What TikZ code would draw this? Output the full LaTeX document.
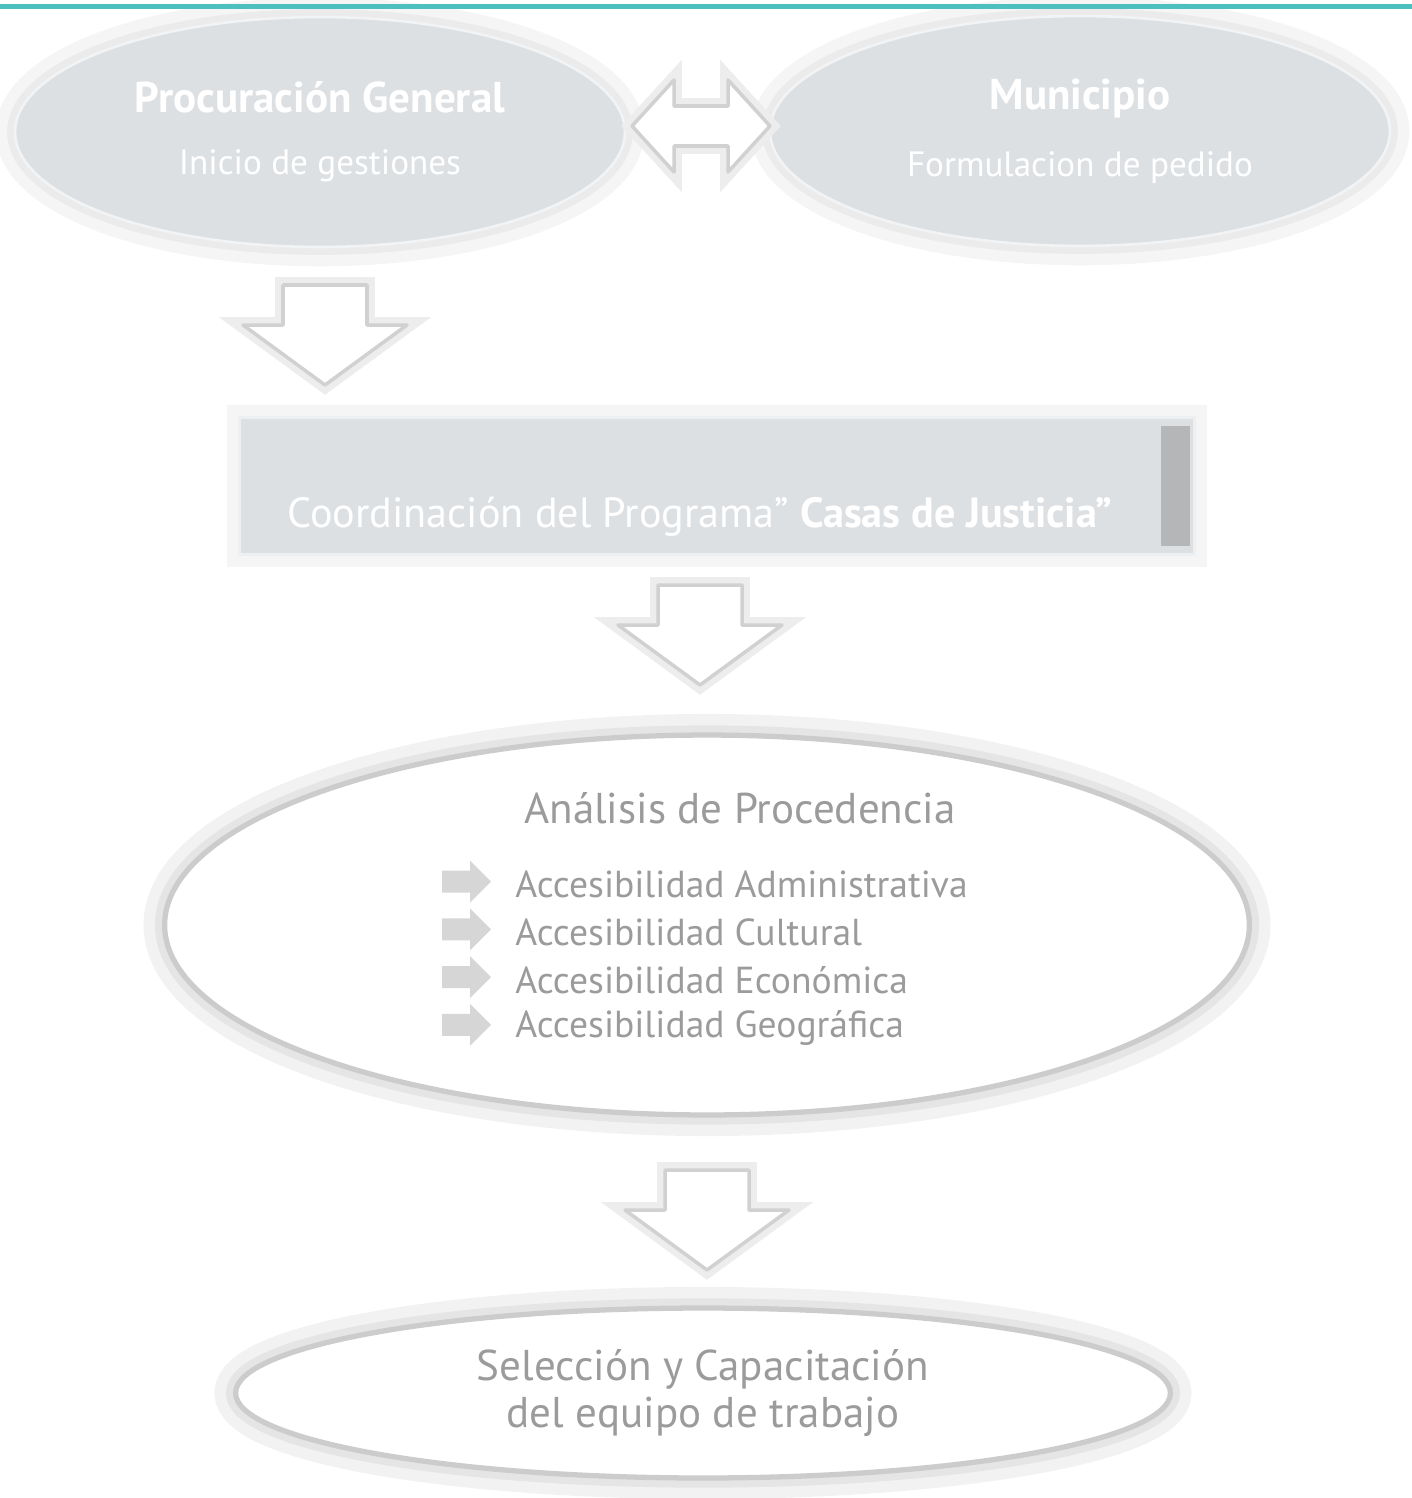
\documentclass[tikz,border=0pt]{standalone}
\usepackage{fontspec}
\setmainfont{PT Sans}
\usetikzlibrary{positioning,shapes.geometric}
\definecolor{tealLine}{HTML}{4dbfc1}
\definecolor{ovalGray}{HTML}{dde0e3}
\definecolor{textGray}{HTML}{9b9b9b}
\definecolor{barGray}{HTML}{b4b6b8}
\newcommand{\letratitulo}{\bfseries\fontsize{24.5}{28}\selectfont}

\tikzset{
    bajada/.pic={
        \path[flechablanca] (-42,0) -- (42,0) -- (42,40) -- (82,40) -- (0,100) -- (-82,40) -- (-42,40) -- cycle;
    },
    vineta/.pic={
        \path[fill=black!16] (0,-11) -- (28,-11) -- (28,-21) -- (49,0) -- (28,21) -- (28,11) -- (0,11) -- cycle;
    }
}

\begin{document}
\begin{tikzpicture}[
    x=0.02cm, y=-0.02cm,
    font=\fontsize{20}{24}\selectfont,
    ovalgris/.style={ellipse, fill=ovalGray, draw=white!60!ovalGray, line width=1.5pt, text=white, align=center,
        preaction={draw=black!4, line width=22pt}, preaction={draw=black!8, line width=9pt}},
    ovalblanco/.style={ellipse, fill=white, draw=black!20, line width=3pt, text=textGray, align=center,
        preaction={draw=black!5, line width=24pt}, preaction={draw=black!10, line width=11pt}},
    flechablanca/.style={fill=white, draw=black!18, line width=2pt, line join=round,
        preaction={draw=black!7, line width=9pt}},
    gristexto/.style={text=textGray, inner sep=0pt}
]
    \useasboundingbox (0,0) rectangle (1412,1498);

    % primera fila
    \node[ovalgris, minimum width=12.2cm, minimum height=4.6cm] (proc) at (320,132)
        {{\letratitulo Procuración General}\\[0.4cm]Inicio de gestiones};
    \node[ovalgris, minimum width=12.4cm, minimum height=4.6cm] (muni) at (1080,131)
        {{\letratitulo Municipio}\\[0.5cm]Formulacion de pedido};
    \path[flechablanca] (632,126) -- (674,80) -- (674,106) -- (728,106) -- (728,80) -- (770,126)
        -- (728,172) -- (728,146) -- (674,146) -- (674,172) -- cycle;

    \pic at (325,285) {bajada};

    % coordinacion
    \node[rectangle, fill=ovalGray, draw=white!50!ovalGray, line width=1.5pt, minimum width=19.1cm, minimum height=2.74cm,
        preaction={draw=black!4, line width=14pt}] (coord) at (717,486) {};
    \fill[barGray] ([xshift=-0.7cm,yshift=-0.2cm]coord.north east) rectangle ([xshift=-0.12cm,yshift=0.2cm]coord.south east);
    \node[text=white, font=\fontsize{24}{28}\selectfont] (coordtxt) at (700,517)
        {Coordinación del Programa” \textbf{Casas de Justicia”}};

    \pic at (700,585) {bajada};

    % analisis
    \node[ovalblanco, minimum width=21.7cm, minimum height=7.6cm] (anal) at (707,925) {};
    \node[gristexto, font=\fontsize{24.5}{28}\selectfont] (analtit) at (740,808) {Análisis de Procedencia};
    \foreach \tipo [count=\i] in {Administrativa, Cultural, Económica, Geográfica}{
        \node[gristexto, anchor=west, font=\fontsize{21.4}{25}\selectfont] (acc\i) at (515,837+47.7*\i) {Accesibilidad \tipo};
        \pic at (442,834+47.7*\i) {vineta};
    }

    \pic at (707,1170) {bajada};

    % seleccion
    \node[ovalblanco, minimum width=18.7cm, minimum height=3.4cm, font=\fontsize{24.5}{27}\selectfont] (sel) at (703,1393)
        {Selección y Capacitación\\del equipo de trabajo};

    % linea superior
    \draw[tealLine, line width=0.1cm] (0,6) -- (1412,6);
\end{tikzpicture}
\end{document}
